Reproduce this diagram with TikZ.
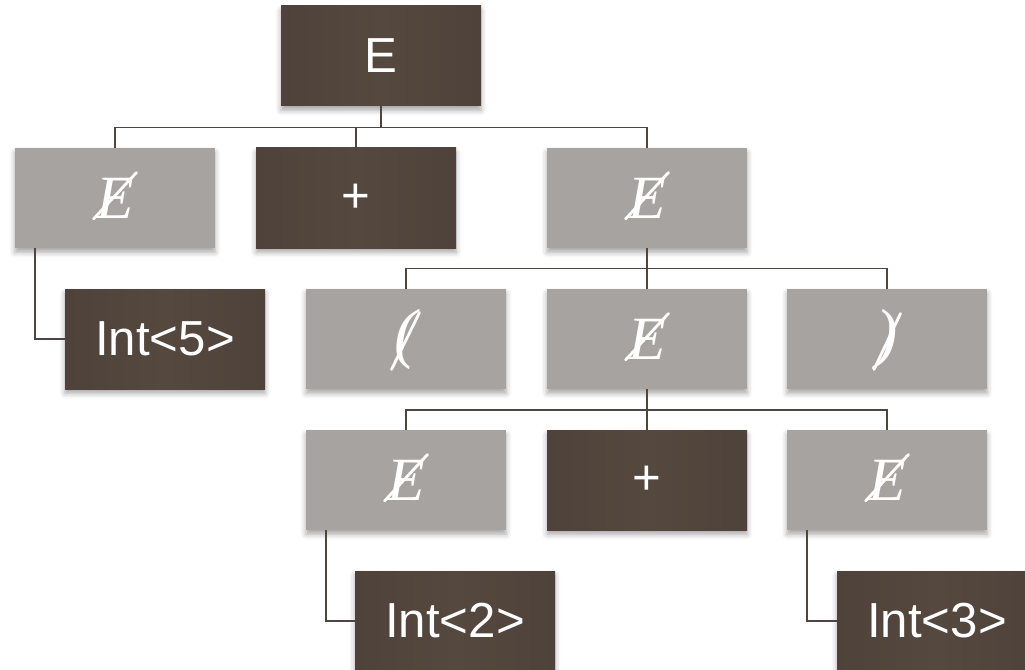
\documentclass[tikz,border=0pt]{standalone}
\usepackage{fontspec}
\setmainfont{Liberation Sans}
\newfontfamily\itserif{Liberation Serif}
\usetikzlibrary{shadows.blur}

\definecolor{termbrown}{HTML}{54483F}
\definecolor{termedge}{HTML}{4E423A}
\definecolor{ntgray}{HTML}{A7A3A0}
\definecolor{wire}{HTML}{4C4541}

\tikzset{
  box/.style={minimum width=4cm, minimum height=2cm, inner sep=0pt,
    text=white, font=\fontsize{28}{30}\selectfont,
    blur shadow={shadow xshift=0pt, shadow yshift=-2.5pt,
      shadow blur radius=3pt, shadow opacity=35}},
  term/.style={box, left color=termedge, right color=termedge, middle color=termbrown},
  nonterm/.style={box, fill=ntgray},
  strike/.style={white, line width=1.6pt, line cap=round},
  wirestyle/.style={wire, line width=0.9pt},
}

\newcommand{\ntE}{{\itserif\itshape\fontsize{35}{37}\selectfont E}}
\newcommand{\ntparen}[1]{{\itserif\itshape\fontsize{38}{40}\selectfont #1}}

\begin{document}
\begin{tikzpicture}
\useasboundingbox (0,0) rectangle (20.5,-13.4);
\clip (0,0) rectangle (20.5,-13.4);

% nodes
\node[term] (root) at (7.62,-1.12) {E};

\node[nonterm] (e1) at (2.30,-3.96) {\ntE};
\node[term] (plus1) at (7.12,-3.96) {+};
\node[nonterm] (e2) at (12.94,-3.96) {\ntE};

\node[term] (i5) at (3.30,-6.78) {Int<5>};
\node[nonterm] (lp) at (8.12,-6.78) {\ntparen{(}};
\node[nonterm] (e3) at (12.94,-6.78) {\ntE};
\node[nonterm] (rp) at (17.74,-6.78) {\ntparen{)}};

\node[nonterm] (e4) at (8.12,-9.60) {\ntE};
\node[term] (plus2) at (12.94,-9.60) {+};
\node[nonterm] (e5) at (17.74,-9.60) {\ntE};

\node[term] (i2) at (9.10,-12.42) {Int<2>};
\node[term] (i3) at (18.74,-12.42) {Int<3>};

% strokes crossing out the nonterminal labels
\foreach \n in {e1,e2,e3,e4,e5}
  \draw[strike] ([shift={(-0.43,-0.42)}]\n.center) -- ([shift={(0.43,0.51)}]\n.center);
\draw[strike] ([shift={(-0.29,-0.61)}]lp.center) -- ([shift={(0.27,0.53)}]lp.center);
\draw[strike] ([shift={(-0.26,-0.61)}]rp.center) -- ([shift={(0.27,0.51)}]rp.center);

% tree connectors
\draw[wirestyle] (root.south) -- ++(0,-0.42) coordinate (b1);
\draw[wirestyle] (b1) -| (e1.north);
\draw[wirestyle] (b1) -| (plus1.north);
\draw[wirestyle] (b1) -| (e2.north);

\draw[wirestyle] ([xshift=-1.6cm]e1.south) |- (i5.west);

\draw[wirestyle] (e2.south) -- ++(0,-0.4) coordinate (b2);
\draw[wirestyle] (b2) -| (lp.north);
\draw[wirestyle] (b2) -- (e3.north);
\draw[wirestyle] (b2) -| (rp.north);

\draw[wirestyle] (e3.south) -- ++(0,-0.41) coordinate (b3);
\draw[wirestyle] (b3) -| (e4.north);
\draw[wirestyle] (b3) -- (plus2.north);
\draw[wirestyle] (b3) -| (e5.north);

\draw[wirestyle] ([xshift=-1.6cm]e4.south) |- (i2.west);
\draw[wirestyle] ([xshift=-1.6cm]e5.south) |- (i3.west);
\end{tikzpicture}
\end{document}
